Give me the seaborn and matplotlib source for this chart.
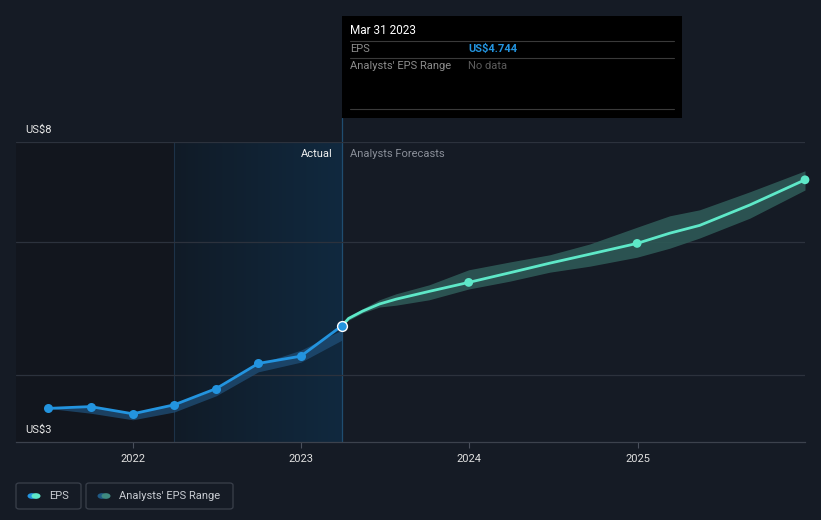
import matplotlib
matplotlib.use("Agg")
import matplotlib.pyplot as plt
from matplotlib.patches import FancyBboxPatch, Rectangle, Circle
import matplotlib.dates as mdates
import numpy as np
import pandas as pd
import seaborn as sns

# actual EPS (quarterly)
actual_dates = ["2021-06-30", "2021-09-30", "2021-12-31", "2022-03-31",
                "2022-06-30", "2022-09-30", "2022-12-31", "2023-03-31"]
actual_eps = [3.56, 3.59, 3.47, 3.62, 3.89, 4.31, 4.43, 4.94]
past_range_low = [3.56, 3.48, 3.37, 3.50, 3.77, 4.17, 4.33, 4.70]
past_range_high = [3.56, 3.58, 3.47, 3.62, 3.88, 4.30, 4.53, 4.87]

# analysts forecast curve, with the range around it
forecast_dates = ["2023-03-31", "2023-04-14", "2023-05-14", "2023-06-20", "2023-07-26",
                  "2023-10-06", "2023-12-31", "2024-03-29", "2024-06-24", "2024-09-19",
                  "2024-12-31", "2025-03-12", "2025-05-16", "2025-09-02", "2025-12-31"]
forecast_eps = [4.94, 5.06, 5.18, 5.30, 5.38, 5.51, 5.66, 5.82, 5.98, 6.13,
                6.31, 6.48, 6.61, 6.95, 7.37]
forecast_low = [4.94, 5.03, 5.15, 5.25, 5.28, 5.37, 5.55, 5.68, 5.83, 5.93,
                6.08, 6.23, 6.40, 6.73, 7.20]
forecast_high = [4.94, 5.08, 5.22, 5.37, 5.47, 5.62, 5.87, 6.00, 6.12, 6.30,
                 6.58, 6.77, 6.87, 7.17, 7.52]
forecast_marked = ["2023-12-31", "2024-12-31", "2025-12-31"]

year_ticks = ["2022-01-01", "2023-01-01", "2024-01-01", "2025-01-01"]
year_labels = ["2022", "2023", "2024", "2025"]

BG = "#151b25"
BLUE = "#2394df"
MINT = "#5ee8c8"

past = pd.DataFrame({"date": pd.to_datetime(actual_dates), "eps": actual_eps,
                     "low": past_range_low, "high": past_range_high})
fc = pd.DataFrame({"date": pd.to_datetime(forecast_dates), "eps": forecast_eps,
                   "low": forecast_low, "high": forecast_high})
marked = fc[fc["date"].isin(pd.to_datetime(forecast_marked))]

sns.set_theme(style="dark")
plt.rcParams["font.family"] = ["Roboto", "DejaVu Sans"]

W, H = 821, 520
fig = plt.figure(figsize=(W / 100, H / 100), dpi=100, facecolor=BG)
ax = fig.add_axes([16 / W, (H - 442) / H, (805 - 16) / W, 300 / H])
ax.set_facecolor(BG)

x0 = pd.Timestamp("2021-04-21")
x1 = pd.Timestamp("2025-12-31")
ax.set_xlim(x0, x1)
ax.set_ylim(3, 8)

# shaded backgrounds
split = pd.Timestamp("2022-03-31")
now = pd.Timestamp("2023-03-31")
ax.axvspan(x0, split, color="#12161e", zorder=0, lw=0)
grad = np.linspace(0, 1, 256).reshape(1, -1)
cmap = matplotlib.colors.LinearSegmentedColormap.from_list("hl", ["#111b27", "#10293f"])
ax.imshow(grad, cmap=cmap, aspect="auto", zorder=0.5,
          extent=[mdates.date2num(split), mdates.date2num(now), 3, 8])
ax.axvline(split, color="#1d3248", lw=0.8, zorder=1)
ax.axvline(now, ymin=0, ymax=(442 - 118) / 300, color="#1f4d70", lw=0.9,
           zorder=1, clip_on=False)

# gridlines
for gy in [4.117, 6.333, 8.0]:
    ax.axhline(gy, color="#2c323d", lw=0.9, zorder=1)

# ranges
ax.fill_between(past["date"], past["low"], past["high"], color="#1f4f78",
                alpha=0.75, lw=0, zorder=2)
ax.fill_between(fc["date"], fc["low"], fc["high"], color="#2e5956",
                alpha=0.9, lw=0, zorder=2)

# lines
sns.lineplot(data=fc, x="date", y="eps", ax=ax, color=MINT, lw=2.0, zorder=3)
sns.scatterplot(data=marked, x="date", y="eps", ax=ax, color=MINT, s=40,
                edgecolor="none", zorder=4, clip_on=False)
sns.lineplot(data=past, x="date", y="eps", ax=ax, color=BLUE, lw=2.0,
             marker="o", markersize=6.5, markeredgewidth=0, zorder=5)
last = past.iloc[[-1]]
sns.scatterplot(data=last, x="date", y="eps", ax=ax, color=BLUE, s=50,
                edgecolor="white", linewidth=1.0, zorder=6)

# axes styling
ax.set_xlabel("")
ax.set_ylabel("")
ax.set_yticks([])
ax.set_xticks(pd.to_datetime(year_ticks))
ax.set_xticklabels(year_labels, color="#e0e0e0", fontsize=8)
ax.tick_params(axis="x", length=4, width=0.8, color="#4a505c", pad=5,
               bottom=True)
for s in ["top", "right", "left"]:
    ax.spines[s].set_visible(False)
ax.spines["bottom"].set_color("#3c424d")
ax.spines["bottom"].set_linewidth(0.9)
ax.grid(False)


def px(x, y):
    return x / W, 1 - y / H


fig.text(*px(25, 130), "US$8", color="#e6e6e6", fontsize=8, va="center")
fig.text(*px(25, 430), "US$3", color="#e6e6e6", fontsize=8, va="center")
fig.text(*px(333, 154), "Actual", color="#f0f0f0", fontsize=8, ha="right", va="center")
fig.text(*px(350, 154), "Analysts Forecasts", color="#8a8f99", fontsize=8, va="center")

# tooltip
fig.patches.append(Rectangle(px(342, 118), 340 / W, 102 / H, transform=fig.transFigure,
                             facecolor="#000000", edgecolor="none", zorder=10))
for ly in [41, 58, 109]:
    fig.add_artist(plt.Line2D([350 / W, 674 / W], [1 - ly / H] * 2, color="#3a3a3a",
                              lw=0.8, zorder=11))
fig.text(*px(350, 31), "Mar 31 2023", color="#ffffff", fontsize=8.5, va="center", zorder=12)
fig.text(*px(350, 49), "EPS", color="#8c8c8c", fontsize=8, va="center", zorder=12)
fig.text(*px(468, 49), "US$4.744", color=BLUE, fontsize=8, fontweight="bold",
         va="center", zorder=12)
fig.text(*px(350, 66), "Analysts' EPS Range", color="#8c8c8c", fontsize=8,
         va="center", zorder=12)
fig.text(*px(468, 66), "No data", color="#5c5c5c", fontsize=8, va="center", zorder=12)

# legend boxes
legend_items = [(16, 81, "EPS", BLUE, MINT), (86, 233, "Analysts' EPS Range", "#1f5a85", "#3f8a80")]
for lx0, lx1, label, c1, c2 in legend_items:
    fig.patches.append(FancyBboxPatch(px(lx0, 509), (lx1 - lx0) / W, 26 / H,
                                      boxstyle="round,pad=0,rounding_size=0.004",
                                      transform=fig.transFigure, facecolor="none",
                                      edgecolor="#3a404b", lw=0.9))
    for cx, cc in [(lx0 + 16, c1), (lx0 + 20, c2)]:
        fig.patches.append(Circle(px(cx, 496), 4.5 / W, transform=fig.transFigure,
                                  facecolor=cc, edgecolor="none"))
    fig.text(*px(lx0 + 33, 496), label, color="#c8ccd2", fontsize=8, va="center")

fig.savefig("out.png", dpi=100, facecolor=BG)
